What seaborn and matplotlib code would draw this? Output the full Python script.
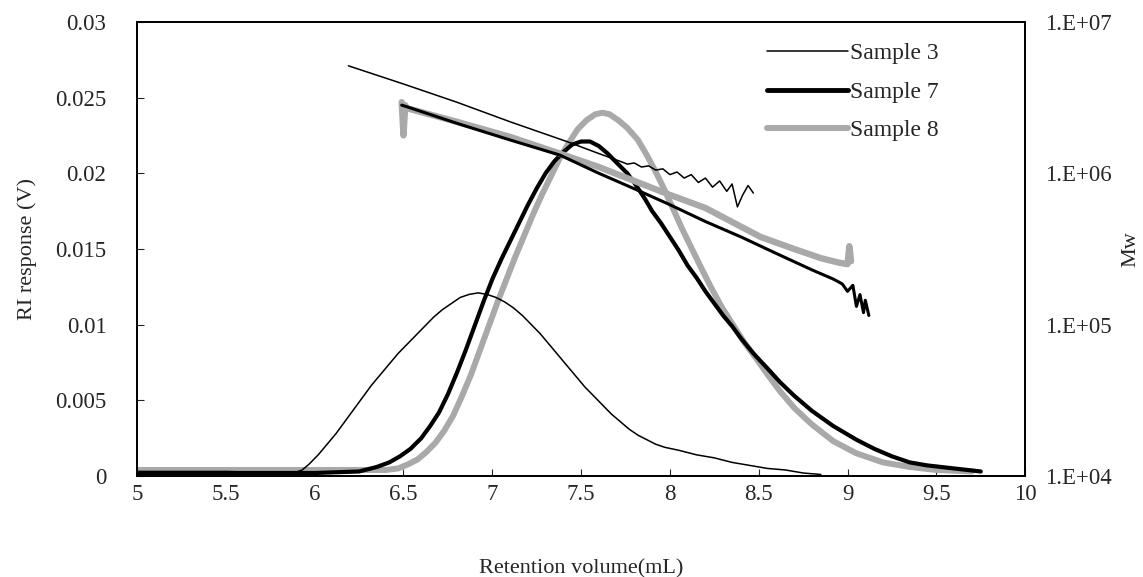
import seaborn as sns
import matplotlib.pyplot as plt
from matplotlib.ticker import NullLocator

# RI response curves (left axis)
s3_ri_x = [5.0, 5.5, 5.88, 5.93, 5.97, 6.02, 6.07, 6.12, 6.17, 6.22, 6.27, 6.32, 6.37, 6.42, 6.47,
           6.52, 6.57, 6.62, 6.67, 6.72, 6.77, 6.82, 6.87, 6.92, 6.97, 7.02, 7.07, 7.12, 7.17, 7.22,
           7.27, 7.32, 7.37, 7.42, 7.47, 7.52, 7.57, 7.62, 7.67, 7.72, 7.77, 7.82, 7.87, 7.92, 7.97,
           8.05, 8.15, 8.25, 8.35, 8.45, 8.55, 8.65, 8.75, 8.85]
s3_ri_y = [0.0003, 0.0003, 0.0002, 0.0004, 0.0008, 0.0014, 0.0021, 0.0028, 0.0036, 0.0044, 0.0052,
           0.0060, 0.0067, 0.0074, 0.0081, 0.0087, 0.0093, 0.0099, 0.0105, 0.0110, 0.0114, 0.0118,
           0.0120, 0.0121, 0.0120, 0.0118, 0.0115, 0.0111, 0.0106, 0.0100, 0.0094, 0.0087, 0.0080,
           0.0073, 0.0066, 0.0059, 0.0053, 0.0047, 0.0041, 0.0036, 0.0031, 0.0027, 0.0024, 0.0021,
           0.0019, 0.0017, 0.0014, 0.0012, 0.0009, 0.0007, 0.0005, 0.0004, 0.0002, 0.0001]

s7_ri_x = [5.0, 6.0, 6.25, 6.35, 6.42, 6.48, 6.54, 6.60, 6.65, 6.70, 6.75, 6.80, 6.85, 6.90, 6.95,
           7.00, 7.05, 7.10, 7.15, 7.20, 7.25, 7.30, 7.35, 7.40, 7.45, 7.50, 7.55, 7.60, 7.65, 7.70,
           7.76, 7.81, 7.86, 7.90, 7.95, 8.00, 8.05, 8.10, 8.15, 8.20, 8.25, 8.30, 8.35, 8.40, 8.47,
           8.55, 8.62, 8.70, 8.80, 8.92, 9.05, 9.15, 9.25, 9.35, 9.45, 9.6, 9.75]
s7_ri_y = [0.0002, 0.0002, 0.0003, 0.0006, 0.0009, 0.0013, 0.0018, 0.0025, 0.0033, 0.0042, 0.0054,
           0.0068, 0.0083, 0.0099, 0.0115, 0.0130, 0.0143, 0.0155, 0.0167, 0.0179, 0.0190, 0.0200,
           0.0208, 0.0214, 0.0219, 0.0221, 0.0221, 0.0218, 0.0213, 0.0207, 0.0200, 0.0192, 0.0183,
           0.0175, 0.0167, 0.0158, 0.0149, 0.0139, 0.0131, 0.0122, 0.0114, 0.0106, 0.0099, 0.0091,
           0.0081, 0.0071, 0.0062, 0.0053, 0.0043, 0.0033, 0.0024, 0.0018, 0.0013, 0.0009, 0.0007,
           0.0005, 0.0003]

s8_ri_x = [5.0, 6.0, 6.4, 6.47, 6.53, 6.58, 6.63, 6.68, 6.73, 6.78, 6.83, 6.88, 6.93, 6.98, 7.03,
           7.08, 7.13, 7.18, 7.23, 7.28, 7.33, 7.38, 7.43, 7.48, 7.53, 7.58, 7.62, 7.66, 7.71, 7.76,
           7.82, 7.87, 7.92, 7.97, 8.02, 8.07, 8.12, 8.17, 8.23, 8.29, 8.36, 8.42, 8.49, 8.55, 8.62,
           8.70, 8.8, 8.92, 9.05, 9.2, 9.35, 9.5, 9.7]
s8_ri_y = [0.0004, 0.0004, 0.0004, 0.0005, 0.0008, 0.0011, 0.0016, 0.0022, 0.0030, 0.0040, 0.0053,
           0.0067, 0.0083, 0.0099, 0.0115, 0.0130, 0.0145, 0.0159, 0.0173, 0.0186, 0.0198, 0.0210,
           0.0220, 0.0229, 0.0235, 0.0239, 0.0240, 0.0239, 0.0235, 0.0230, 0.0222, 0.0212, 0.0201,
           0.0189, 0.0176, 0.0163, 0.0151, 0.0139, 0.0125, 0.0112, 0.0099, 0.0088, 0.0077, 0.0067,
           0.0056, 0.0045, 0.0034, 0.0023, 0.0015, 0.0009, 0.0006, 0.0004, 0.0003]

# Mw curves (right axis, log)
s3_mw_x = [6.19, 6.5, 6.8, 7.1, 7.42, 7.6, 7.72, 7.76, 7.80, 7.84, 7.88, 7.92, 7.96, 8.00, 8.04,
           8.08, 8.12, 8.16, 8.20, 8.24, 8.28, 8.32, 8.35, 8.38, 8.41, 8.44, 8.47]
s3_mw_y = [5.13e6, 3.89e6, 2.95e6, 2.19e6, 1.62e6, 1.35e6, 1.20e6, 1.15e6, 1.17e6, 1.10e6, 1.12e6,
           1.05e6, 1.07e6, 9.8e5, 1.02e6, 9.3e5, 9.8e5, 8.7e5, 9.3e5, 8.1e5, 8.9e5, 7.6e5, 8.5e5,
           6.0e5, 7.2e5, 8.3e5, 7.4e5]

s7_mw_x = [6.49, 6.52, 6.8, 7.1, 7.38, 7.6, 7.8, 8.0, 8.2, 8.4, 8.6, 8.8, 8.92, 8.97, 9.0, 9.03,
           9.05, 9.07, 9.09, 9.1, 9.12]
s7_mw_y = [2.82e6, 2.75e6, 2.14e6, 1.66e6, 1.32e6, 1.0e6, 7.9e5, 6.2e5, 4.8e5, 3.8e5, 2.95e5,
           2.3e5, 2.0e5, 1.86e5, 1.66e5, 1.82e5, 1.32e5, 1.58e5, 1.2e5, 1.45e5, 1.15e5]

s8_mw_x = [6.49, 6.50, 6.51, 6.52, 6.8, 7.1, 7.38, 7.6, 7.8, 8.0, 8.2, 8.51, 8.7, 8.85, 8.95,
           9.0, 9.01, 9.02]
s8_mw_y = [2.95e6, 1.78e6, 2.82e6, 2.69e6, 2.19e6, 1.74e6, 1.35e6, 1.10e6, 8.9e5, 7.2e5, 5.9e5,
           3.8e5, 3.16e5, 2.75e5, 2.57e5, 2.51e5, 3.3e5, 2.63e5]

x_ticks = [5, 5.5, 6, 6.5, 7, 7.5, 8, 8.5, 9, 9.5, 10]
x_tick_labels = ['5', '5.5', '6', '6.5', '7', '7.5', '8', '8.5', '9', '9.5', '10']
ri_ticks = [0, 0.005, 0.01, 0.015, 0.02, 0.025, 0.03]
ri_tick_labels = ['0', '0.005', '0.01', '0.015', '0.02', '0.025', '0.03']
mw_ticks = [1e4, 1e5, 1e6, 1e7]
mw_tick_labels = ['1.E+04', '1.E+05', '1.E+06', '1.E+07']

gray = '#a9a9a9'

sns.set_style("ticks")
plt.rcParams['font.family'] = ['Liberation Serif', 'DejaVu Serif']

fig = plt.figure(figsize=(11.43, 5.77), dpi=100)
ax = fig.add_axes([0.1199, 0.175, 0.777, 0.787])
ax2 = ax.twinx()

sns.lineplot(x=s8_ri_x, y=s8_ri_y, ax=ax, color=gray, linewidth=4.3, estimator=None)
sns.lineplot(x=s7_ri_x, y=s7_ri_y, ax=ax, color='black', linewidth=3.0, estimator=None)
sns.lineplot(x=s3_ri_x, y=s3_ri_y, ax=ax, color='black', linewidth=1.1, estimator=None)

sns.lineplot(x=s8_mw_x, y=s8_mw_y, ax=ax2, color=gray, linewidth=4.6, estimator=None)
sns.lineplot(x=s7_mw_x, y=s7_mw_y, ax=ax2, color='black', linewidth=2.2, estimator=None)
sns.lineplot(x=s3_mw_x, y=s3_mw_y, ax=ax2, color='black', linewidth=1.1, estimator=None)

ax.set_xlim(5, 10)
ax.set_ylim(0, 0.03)
ax.set_xticks(x_ticks)
ax.set_xticklabels(x_tick_labels)
ax.set_yticks(ri_ticks)
ax.set_yticklabels(ri_tick_labels)
ax.tick_params(axis='both', direction='in', length=5, width=0.8, labelsize=16.5)
ax.tick_params(axis='y', pad=22)
ax.tick_params(axis='x', pad=6)
ax.set_xlabel('Retention volume(mL)', fontsize=16, labelpad=39)
ax.set_ylabel('RI response (V)', fontsize=16, labelpad=13)

ax2.set_yscale('log')
ax2.set_ylim(1e4, 1e7)
ax2.set_yticks(mw_ticks)
ax2.set_yticklabels(mw_tick_labels)
ax2.yaxis.set_minor_locator(NullLocator())
ax2.tick_params(axis='y', length=0, pad=14, labelsize=16.5)
ax2.set_ylabel('Mw', fontsize=16, labelpad=7)

for a in (ax, ax2):
    for s in a.spines.values():
        s.set_color('black')
        s.set_linewidth(1.3)

handles = [plt.Line2D([], [], color='black', linewidth=1.1),
           plt.Line2D([], [], color='black', linewidth=3.5),
           plt.Line2D([], [], color=gray, linewidth=4.3)]
ax2.legend(handles, ['Sample 3', 'Sample 7', 'Sample 8'], loc='upper left',
           bbox_to_anchor=(0.699, 0.975), frameon=False, fontsize=17,
           handlelength=3.4, handletextpad=0.1, labelspacing=0.72, borderaxespad=0)

fig.savefig('out.png', dpi=100)
